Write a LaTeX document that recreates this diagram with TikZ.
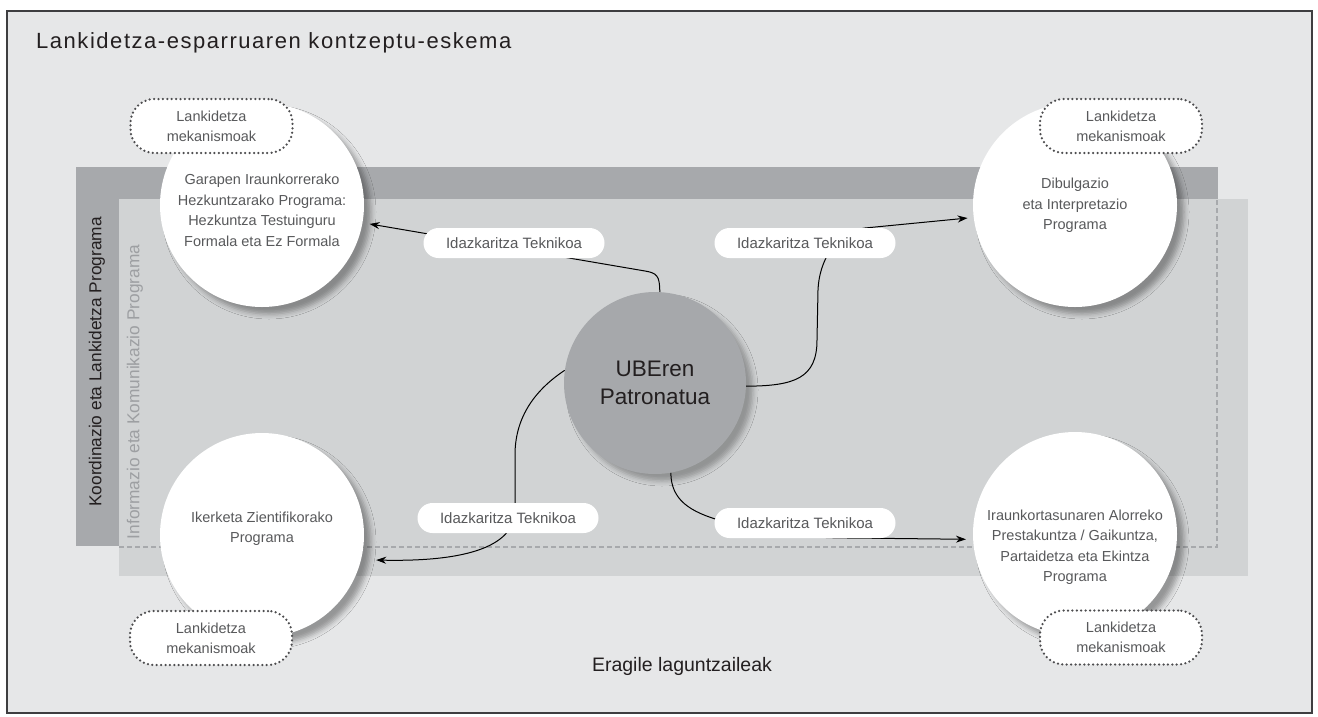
\documentclass[tikz,border=0pt]{standalone}
\usepackage{fontspec}
\setmainfont{Liberation Sans}
\usetikzlibrary{shadows.blur,arrows.meta}
\definecolor{bg}{HTML}{E6E7E8}
\definecolor{band}{HTML}{A7A9AC}
\definecolor{lband}{HTML}{D1D3D4}
\definecolor{ink}{HTML}{58595B}
\definecolor{dotink}{HTML}{4D4D4F}
\definecolor{hubfill}{HTML}{A6A8AB}
\definecolor{dark}{HTML}{231F20}
\definecolor{paleink}{HTML}{9D9FA2}
\begin{document}
\begin{tikzpicture}[x=1pt,y=-1pt,
  prog/.style={circle,fill=white,minimum size=204pt,inner sep=0pt,
    blur shadow={shadow xshift=7pt,shadow yshift=-7pt,shadow blur radius=5pt,shadow opacity=35}},
  hubstyle/.style={circle,fill=hubfill,minimum size=182pt,inner sep=0pt,align=center,text=dark,
    font=\fontsize{22.5}{28}\selectfont,
    blur shadow={shadow xshift=7pt,shadow yshift=-7pt,shadow blur radius=5pt,shadow opacity=30}},
  progtext/.style={align=center,text=ink,font=\fontsize{14.5}{20.5}\selectfont},
  pill/.style={rounded corners=15pt,fill=white,minimum width=181pt,minimum height=30pt,inner sep=0pt,
    text=ink,font=\fontsize{15}{18}\selectfont},
  mech/.style={draw=dotink,fill=white,line width=2.5pt,dash pattern=on 0pt off 4.4pt,line cap=round,
    rounded corners=24pt,minimum width=162pt,minimum height=54pt,inner sep=0pt,align=center,
    text=ink,font=\fontsize{14.5}{20}\selectfont},
  conn/.style={line width=1pt,draw=black,-{Stealth[length=10pt,width=7pt]}},
  vtext/.style={rotate=90,font=\fontsize{17.3}{20}\selectfont},
]
\useasboundingbox (0,0) rectangle (1318,716);
\fill[white] (0,0) rectangle (1318,716);
% frame
\draw[fill=bg,draw=ink!70!black,line width=1.2pt] (7,11) rectangle (1312,713);
% title
\node[anchor=base west,text=dark,font=\fontsize{22}{26}\selectfont\addfontfeature{LetterSpace=7},inner sep=0pt] (title) at (36,48) {Lankidetza-esparruaren kontzeptu-eskema};
% bands
\fill[band] (76,167) rectangle (1218,546);
\fill[lband] (119,199) rectangle (1248,576);
\draw[band,line width=1.5pt,dash pattern=on 5pt off 3pt] (119,547) -- (1217,547) -- (1217,199);
\node[vtext,text=dark] (koord) at (97,362) {Koordinazio eta Lankidetza Programa};
\node[vtext,text=paleink] (info) at (135,392) {Informazio eta Komunikazio Programa};
% circles
\node[prog] (tl) at (262,205) {};
\node[prog] (tr) at (1075,205) {};
\node[prog] (bl) at (262,535) {};
\node[prog] (br) at (1075,534) {};
\node[hubstyle] (hub) at (655,383) {UBEren\\Patronatua};
% circle texts
\node[progtext] (tltext) at (262,210.5) {Garapen Iraunkorrerako\\Hezkuntzarako Programa:\\Hezkuntza Testuinguru\\Formala eta Ez Formala};
\node[progtext] (trtext) at (1075,205.5) {Dibulgazio\\eta Interpretazio\\Programa};
\node[progtext] (bltext) at (262,528.5) {Ikerketa Zientifikorako\\Programa};
\node[progtext] (brtext) at (1075,547) {Iraunkortasunaren Alorreko\\Prestakuntza / Gaikuntza,\\Partaidetza eta Ekintza\\Programa};
% connectors
\draw[conn,shorten >=7pt] (hub.87) .. controls +(0,-16) and +(12,2) .. (645,271) -- (tl.-10);
\draw[conn,shorten >=6pt] (hub.-2) .. controls (795,386) and (817,378) .. (817,340) -- (818,290)
   .. controls (819,262) and (835,232) .. (865,228) -- (tr.187);
\draw[conn,shorten >=15pt] (hub.172) .. controls (532,392) and (515,420) .. (515,455) -- (515,510)
   .. controls (515,545) and (470,562) .. (bl.-14);
\draw[conn,shorten >=7pt] (hub.-80) .. controls (671,500) and (690,512) .. (722,521)
   .. controls (765,533) and (805,538) .. (850,538) -- (br.183);
% pills
\node[pill] (p1) at (514,243) {Idazkaritza Teknikoa};
\node[pill] (p2) at (805,243) {Idazkaritza Teknikoa};
\node[pill] (p3) at (508,518) {Idazkaritza Teknikoa};
\node[pill] (p4) at (805,523) {Idazkaritza Teknikoa};
% mechanisms
\node[mech] (m1) at (211.5,126) {Lankidetza\\mekanismoak};
\node[mech] (m2) at (1121,126) {Lankidetza\\mekanismoak};
\node[mech] (m3) at (211,638) {Lankidetza\\mekanismoak};
\node[mech] (m4) at (1121,637.5) {Lankidetza\\mekanismoak};
% bottom label
\node[text=dark,font=\fontsize{19.5}{22}\selectfont] (eragile) at (682,666) {Eragile laguntzaileak};
\end{tikzpicture}
\end{document}
